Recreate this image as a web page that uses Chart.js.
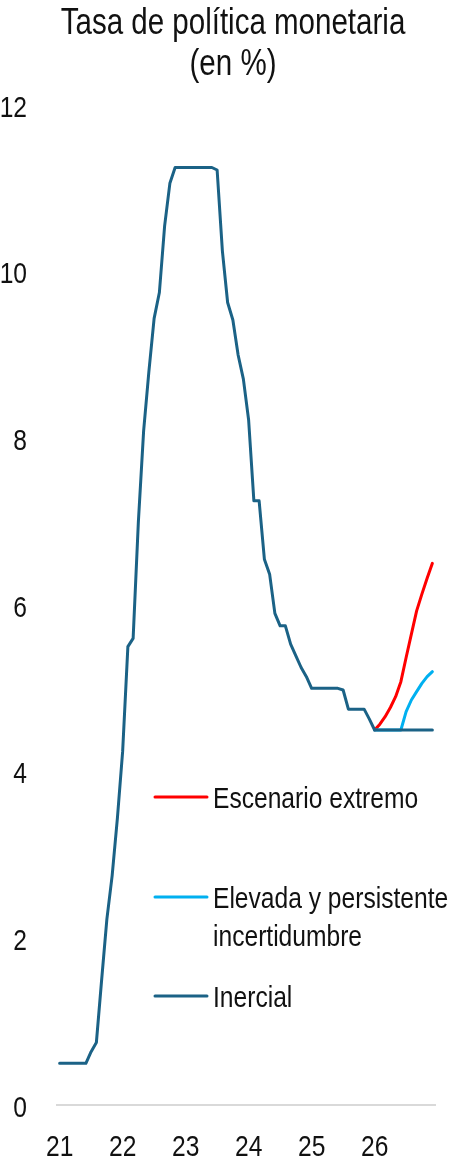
<!DOCTYPE html>
<html>
<head>
<meta charset="utf-8">
<script src="https://cdn.jsdelivr.net/npm/chart.js@4.4.1/dist/chart.umd.min.js"></script>
<style>
  html, body { margin: 0; padding: 0; background: #ffffff; }
  canvas { display: block; }
</style>
</head>
<body>
<canvas id="tpm" width="454" height="1161"></canvas>
<script>
// Years shown on the horizontal axis (one category per month)
const years = ['21', '22', '23', '24', '25', '26'];

// Monetary policy rate, monthly average (%), Jan 2021 - Dec 2026
const tpmInercial = [
  0.50, 0.50, 0.50, 0.50, 0.50, 0.50, 0.64, 0.75, 1.50, 2.23, 2.75, 3.44,
  4.24, 5.50, 5.60, 7.00, 8.09, 8.80, 9.44, 9.75, 10.55, 11.06, 11.25, 11.25,
  11.25, 11.25, 11.25, 11.25, 11.25, 11.25, 11.22, 10.25, 9.63, 9.42, 9.00, 8.71,
  8.22, 7.25, 7.25, 6.55, 6.37, 5.90, 5.75, 5.75, 5.53, 5.39, 5.25, 5.14,
  5.00, 5.00, 5.00, 5.00, 5.00, 5.00, 4.98, 4.75, 4.75, 4.75, 4.75, 4.63,
  4.50, 4.50, 4.50, 4.50, 4.50, 4.50, 4.50, 4.50, 4.50, 4.50, 4.50, 4.50
];

// Alternative scenarios, Jan 2026 - Dec 2026
const tpmIncertidumbre2026 = [4.50, 4.50, 4.50, 4.50, 4.50, 4.50, 4.72, 4.86, 4.96, 5.06, 5.14, 5.20];
const tpmExtremo2026 = [4.50, 4.57, 4.66, 4.77, 4.90, 5.08, 5.37, 5.65, 5.93, 6.13, 6.32, 6.50];

// Titles and legend entries
const titleLines = ['Tasa de política monetaria', '(en %)'];
const legendEntries = [
  { dataset: 2, lines: ['Escenario extremo'] },
  { dataset: 1, lines: ['Elevada y persistente', 'incertidumbre'] },
  { dataset: 0, lines: ['Inercial'] }
];

// Arial-metric face squeezed horizontally to a narrow cut
const FACE = "'Liberation Sans', Arial, sans-serif";
const NARROW = 0.82;
const TEXT = '#111111';
const C_INERCIAL = '#1b6286';
const C_INCERT = '#00b0f0';
const C_EXTREMO = '#ff0000';

const months = [];
years.forEach(y => {
  for (let m = 1; m <= 12; m++) months.push(y + '-' + String(m).padStart(2, '0'));
});

// scenario series only start in the last year
function fromLastYear(values) {
  return new Array(months.length - values.length).fill(null).concat(values);
}

function narrowText(ctx, text, x, baseline, size, align) {
  ctx.save();
  ctx.font = size + 'px ' + FACE;
  ctx.fillStyle = TEXT;
  ctx.textAlign = align;
  ctx.textBaseline = 'alphabetic';
  ctx.translate(x, baseline);
  ctx.scale(NARROW, 1);
  ctx.fillText(text, 0, 0);
  ctx.restore();
}

// title, tick labels and the in-plot legend, all in the narrow face
const narrowLabels = {
  id: 'narrowLabels',
  afterDraw(chart) {
    const ctx = chart.ctx;
    const area = chart.chartArea;
    const cx = (area.left + area.right) / 2 - 13;

    titleLines.forEach((t, i) => narrowText(ctx, t, cx, 34 + i * 41, 36, 'center'));

    const ys = chart.scales.y;
    ys.ticks.forEach(t => {
      const py = ys.getPixelForValue(t.value);
      narrowText(ctx, ys.getLabelForValue(t.value), area.left - 30, py + 11.5, 30, 'right');
    });

    const xs = chart.scales.x;
    xs.ticks.forEach((t, i) => {
      if (i % 12 !== 0) return;
      narrowText(ctx, years[i / 12], xs.getPixelForTick(i), area.bottom + 51, 30, 'center');
    });

    const ds = chart.data.datasets;
    const legendY = [ys.getPixelForValue(0) - 308, ys.getPixelForValue(0) - 208, ys.getPixelForValue(0) - 109];
    legendEntries.forEach((e, k) => {
      const y = legendY[k];
      ctx.save();
      ctx.strokeStyle = ds[e.dataset].borderColor;
      ctx.lineWidth = 3;
      ctx.lineCap = 'round';
      ctx.beginPath();
      ctx.moveTo(155, y);
      ctx.lineTo(207, y);
      ctx.stroke();
      ctx.restore();
      e.lines.forEach((t, i) => narrowText(ctx, t, 213, y + 10.5 + i * 38.5, 30, 'left'));
    });
  }
};

new Chart(document.getElementById('tpm'), {
  type: 'line',
  data: {
    labels: months,
    datasets: [
      {
        label: 'Inercial',
        data: tpmInercial,
        borderColor: C_INERCIAL,
        backgroundColor: C_INERCIAL
      },
      {
        label: 'Elevada y persistente incertidumbre',
        data: fromLastYear(tpmIncertidumbre2026),
        borderColor: C_INCERT,
        backgroundColor: C_INCERT
      },
      {
        label: 'Escenario extremo',
        data: fromLastYear(tpmExtremo2026),
        borderColor: C_EXTREMO,
        backgroundColor: C_EXTREMO
      }
    ]
  },
  options: {
    responsive: false,
    animation: false,
    devicePixelRatio: 1,
    elements: {
      line: { borderWidth: 3, tension: 0, borderJoinStyle: 'round', borderCapStyle: 'round' },
      point: { radius: 0, hoverRadius: 0 }
    },
    layout: { padding: { left: 0, right: 19, top: 105, bottom: 56 } },
    plugins: {
      legend: { display: false },
      tooltip: { enabled: false },
      title: { display: false }
    },
    scales: {
      x: {
        type: 'category',
        offset: true,
        grid: { display: false, drawTicks: false },
        border: { display: true, color: '#d9d9d9', width: 2 },
        ticks: { display: false, autoSkip: false, maxRotation: 0 }
      },
      y: {
        min: 0,
        max: 12,
        grid: { display: false, drawTicks: false },
        border: { display: false },
        ticks: { display: false, stepSize: 2 },
        afterFit: function (scale) { scale.width = 57; }
      }
    }
  },
  plugins: [narrowLabels]
});
</script>
</body>
</html>
